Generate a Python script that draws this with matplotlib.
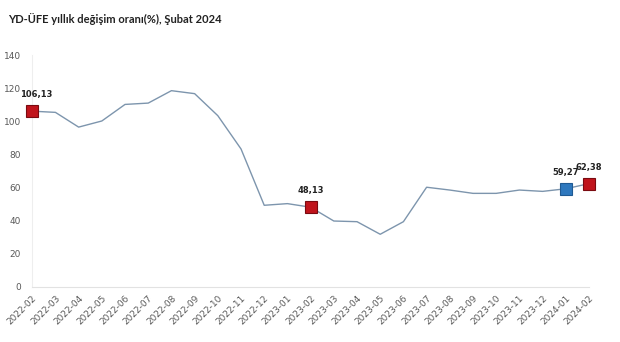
import matplotlib.pyplot as plt
import numpy as np

months = ["2022-02", "2022-03", "2022-04", "2022-05", "2022-06", "2022-07", "2022-08",
          "2022-09", "2022-10", "2022-11", "2022-12", "2023-01", "2023-02", "2023-03",
          "2023-04", "2023-05", "2023-06", "2023-07", "2023-08", "2023-09", "2023-10",
          "2023-11", "2023-12", "2024-01", "2024-02"]
ydufe = [106.13, 105.4, 96.5, 100.2, 110.2, 111.0, 118.5, 116.7, 103.4, 83.3, 49.3, 50.3,
         48.13, 39.8, 39.4, 31.8, 39.4, 60.2, 58.5, 56.5, 56.5, 58.5, 57.7, 59.27, 62.38]

red_pts = ["2022-02", "2023-02", "2024-02"]
blue_pts = ["2024-01"]

x = np.arange(len(months))

fig = plt.figure(figsize=(6.2, 3.42), dpi=100)
ax = fig.add_axes([0.052, 0.161, 0.898, 0.678])

ax.plot(x, ydufe, color="#7d95ad", lw=1.0, zorder=2)

for m in red_pts + blue_pts:
    i = months.index(m)
    col = "#c0141c" if m in red_pts else "#2e78be"
    edge = "#7a0a10" if m in red_pts else "#1f5a93"
    ax.plot(x[i], ydufe[i], marker="s", ms=8, mfc=col, mec=edge, mew=0.8,
            zorder=3, clip_on=False)
    dx = 3 if i == 0 else 0
    ax.annotate(f"{ydufe[i]:.2f}".replace(".", ","), (x[i], ydufe[i]),
                xytext=(dx, 10), textcoords="offset points", ha="center",
                fontsize=6, fontweight="bold", color="#222222")

ax.set_xlim(0, len(months) - 1)
ax.set_ylim(0, 140)
ax.set_yticks(np.arange(0, 141, 20))
ax.set_xticks(x)
ax.set_xticklabels(months, rotation=45, ha="right", rotation_mode="anchor")
ax.tick_params(axis="both", labelsize=6.5, labelcolor="#595959", length=0, pad=8)
ax.tick_params(axis="x", pad=5)

for s in ["top", "right"]:
    ax.spines[s].set_visible(False)
ax.spines["left"].set_color("#eeeeee")
ax.spines["bottom"].set_color("#e2e2e2")

fig.text(0.013, 0.945, "YD-ÜFE yıllık değişim oranı(%), Şubat 2024",
         fontsize=8, fontweight="bold", family="Lato", color="#222222", va="center")

fig.savefig("out.png", dpi=100, facecolor="white")
